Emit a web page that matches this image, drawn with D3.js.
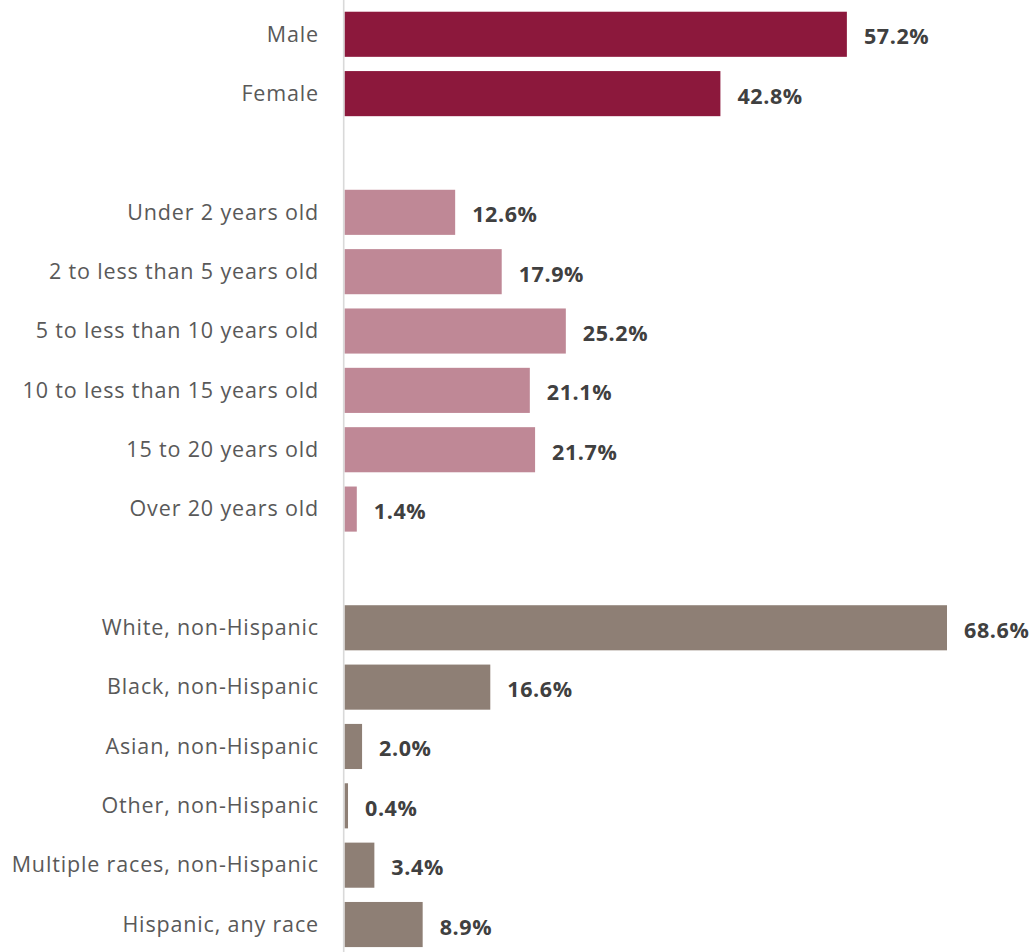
<!DOCTYPE html>
<html>
<head>
<meta charset="utf-8">
<script src="https://cdn.jsdelivr.net/npm/d3@7"></script>
<style>
  html, body { margin: 0; padding: 0; background: #fff; }
  svg { display: block; }
</style>
</head>
<body>
<svg id="chart" width="1033" height="952"></svg>
<script>
// Demographic breakdown, percent of total, in three groups
const sexCategories = ["Male", "Female"];
const sexValues = [57.2, 42.8];

const ageCategories = [
  "Under 2 years old",
  "2 to less than 5 years old",
  "5 to less than 10 years old",
  "10 to less than 15 years old",
  "15 to 20 years old",
  "Over 20 years old"
];
const ageValues = [12.6, 17.9, 25.2, 21.1, 21.7, 1.4];

const raceCategories = [
  "White, non-Hispanic",
  "Black, non-Hispanic",
  "Asian, non-Hispanic",
  "Other, non-Hispanic",
  "Multiple races, non-Hispanic",
  "Hispanic, any race"
];
const raceValues = [68.6, 16.6, 2.0, 0.4, 3.4, 8.9];

const groupColors = { sex: "#8c183c", age: "#bf8896", race: "#8e7f75" };

// Rows, with an empty spacer row between groups
const rows = [];
sexCategories.forEach((c, i) => rows.push({ key: "s" + i, label: c, value: sexValues[i], group: "sex" }));
rows.push({ key: "gap1", label: "", value: null });
ageCategories.forEach((c, i) => rows.push({ key: "a" + i, label: c, value: ageValues[i], group: "age" }));
rows.push({ key: "gap2", label: "", value: null });
raceCategories.forEach((c, i) => rows.push({ key: "r" + i, label: c, value: raceValues[i], group: "race" }));

const svg = d3.select("#chart");
const x0 = 344.5;
const x = d3.scaleLinear().domain([0, 68.6]).range([x0, 947]);
const y = d3.scaleBand()
  .domain(rows.map(d => d.key))
  .range([4.6, 954.2])
  .paddingInner(0.24)
  .paddingOuter(0.12);

const data = rows.filter(d => d.value !== null);
const font = "'Open Sans', 'Liberation Sans', sans-serif";

svg.selectAll("rect.bar")
  .data(data)
  .join("rect")
  .attr("class", "bar")
  .attr("x", x(0))
  .attr("y", d => y(d.key))
  .attr("width", d => x(d.value) - x(0))
  .attr("height", y.bandwidth())
  .attr("fill", d => groupColors[d.group]);

// Vertical category axis line
svg.append("line")
  .attr("x1", x0 - 0.8).attr("x2", x0 - 0.8)
  .attr("y1", 0).attr("y2", 952)
  .attr("stroke", "#d9d9d9")
  .attr("stroke-width", 1.6);

// Category labels
svg.selectAll("text.cat")
  .data(data)
  .join("text")
  .attr("class", "cat")
  .attr("x", x0 - 25.5)
  .attr("y", d => y(d.key) + y.bandwidth() / 2 + 7.3)
  .attr("text-anchor", "end")
  .attr("font-family", font)
  .attr("font-size", 21.5)
  .attr("letter-spacing", 0.85)
  .attr("fill", "#595959")
  .text(d => d.label);

// Value labels
svg.selectAll("text.val")
  .data(data)
  .join("text")
  .attr("class", "val")
  .attr("x", d => x(d.value) + 17)
  .attr("y", d => y(d.key) + y.bandwidth() / 2 + 10)
  .attr("font-family", font)
  .attr("font-size", 21.5)
  .attr("letter-spacing", 0.6)
  .attr("font-weight", "bold")
  .attr("fill", "#404040")
  .text(d => d.value.toFixed(1) + "%");
</script>
</body>
</html>
